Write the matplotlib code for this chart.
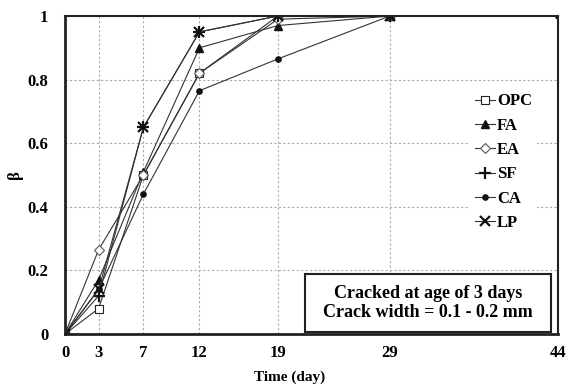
import matplotlib
matplotlib.use("Agg")
import matplotlib.pyplot as plt
from matplotlib.patches import Rectangle

days = [0, 3, 7, 12, 19, 29]
days_ca = [0, 3, 7, 12, 19, 29, 44]
opc = [0, 0.08, 0.50, 0.82, 1.00, 1.00]
fa = [0, 0.17, 0.51, 0.90, 0.97, 1.00]
ea = [0, 0.265, 0.50, 0.82, 0.99, 1.00]
sf = [0, 0.12, 0.65, 0.95, 1.00, 1.00]
ca = [0, 0.14, 0.44, 0.765, 0.865, 1.00, 1.00]
lp = [0, 0.14, 0.65, 0.95, 1.00, 1.00]
xticks = [0, 3, 7, 12, 19, 29, 44]
yticks = [0, 0.2, 0.4, 0.6, 0.8, 1.0]
yticklabels = ["0", "0.2", "0.4", "0.6", "0.8", "1"]

plt.rcParams['font.family'] = ['Liberation Serif', 'DejaVu Serif']
plt.rcParams['font.weight'] = 'bold'

fig = plt.figure(figsize=(5.66, 3.85), dpi=100)
ax = fig.add_axes([65/566, 1-334/385, (558-65)/566, (334-16)/385])

lc = '#333333'
lw = 0.8
ax.plot(days, opc, color=lc, lw=lw, marker='s', ms=5.5, mfc='white', mec='#222222', mew=0.8, label='OPC')
ax.plot(days, fa, color=lc, lw=lw, marker='^', ms=5.5, mfc='#111111', mec='#111111', label='FA')
ax.plot(days, ea, color=lc, lw=lw, marker='D', ms=5, mfc='white', mec='#555555', mew=0.8, label='EA')
ax.plot(days, sf, color=lc, lw=lw, marker='+', ms=8, mec='#111111', mew=1.6, label='SF')
ax.plot(days_ca, ca, color=lc, lw=lw, marker='o', ms=3.8, mfc='#111111', mec='#111111', label='CA')
ax.plot(days, lp, color=lc, lw=lw, marker='x', ms=6.5, mec='#111111', mew=1.6, label='LP')

ax.set_xlim(0, 44)
ax.set_ylim(0, 1)
ax.set_xticks(xticks)
ax.set_xticklabels([str(v) for v in xticks])
ax.set_yticks(yticks)
ax.set_yticklabels(yticklabels)
ax.tick_params(axis='both', length=0, labelsize=12)
ax.tick_params(axis='x', pad=8)
ax.tick_params(axis='y', pad=12)
for lab in ax.get_xticklabels() + ax.get_yticklabels():
    lab.set_fontweight('bold')

ax.grid(True, color='#aaaaaa', linestyle=(0, (2, 2)), linewidth=0.8)
ax.set_axisbelow(True)
for s in ['left', 'bottom']:
    ax.spines[s].set_linewidth(2.0)
for s in ['top', 'right']:
    ax.spines[s].set_linewidth(1.5)
for s in ax.spines.values():
    s.set_color('#222222')

ax.set_xlabel('Time (day)', fontsize=11, fontweight='bold', labelpad=2)
ax.xaxis.set_label_coords(0.456, -0.115)
ax.set_ylabel('β', fontsize=12, fontweight='bold')
ax.yaxis.set_label_coords(-0.085, 0.5)

leg = ax.legend(loc='center', bbox_to_anchor=(0.89, 0.54), frameon=True,
                fontsize=12, handlelength=1.2, handletextpad=0.1,
                labelspacing=0.5, borderpad=0.3, borderaxespad=0)
leg.get_frame().set_edgecolor('none')
leg.get_frame().set_facecolor('white')
leg.get_frame().set_alpha(1)
for t in leg.get_texts():
    t.set_fontweight('bold')

ax.add_patch(Rectangle((0.487, 0.006), 0.498, 0.183, transform=ax.transAxes,
                       facecolor='white', edgecolor='#222222', linewidth=1.5, zorder=5))
ax.text(0.736, 0.097, 'Cracked at age of 3 days\nCrack width = 0.1 - 0.2 mm',
        transform=ax.transAxes, ha='center', va='center', fontsize=13,
        fontweight='bold', linespacing=1.17, zorder=6)

fig.savefig('out.png', dpi=100)
